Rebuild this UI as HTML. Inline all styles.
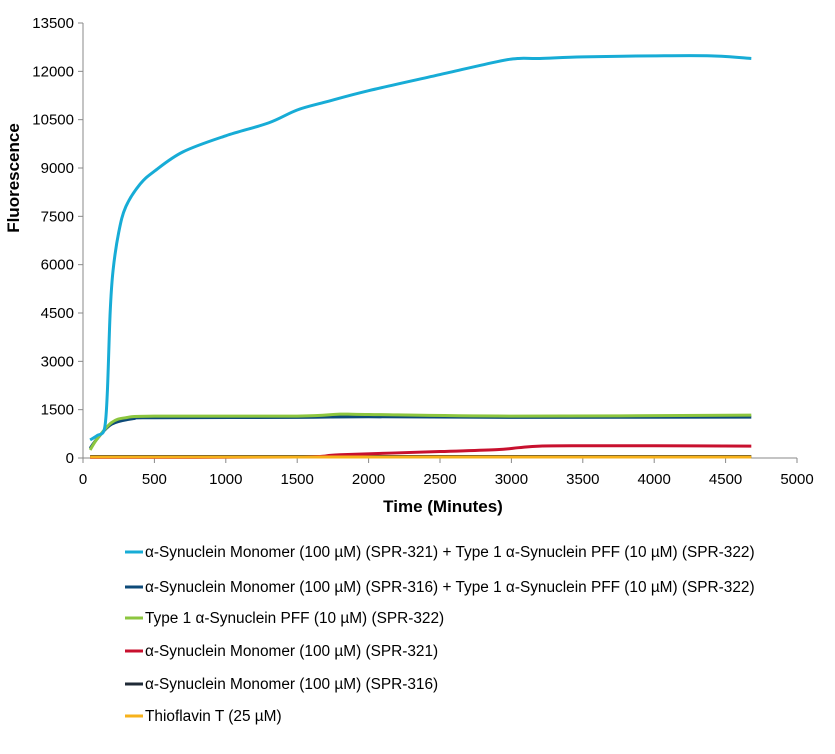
<!DOCTYPE html>
<html><head><meta charset="utf-8"><style>
body{margin:0;background:#fff;font-family:"Liberation Sans",sans-serif}
</style></head><body>
<svg id="c" width="835" height="749" xmlns="http://www.w3.org/2000/svg" font-family="Liberation Sans, sans-serif"></svg>
<script>
const xTicks=[0,500,1000,1500,2000,2500,3000,3500,4000,4500,5000];
const yTicks=[0,1500,3000,4500,6000,7500,9000,10500,12000,13500];
const names=["α-Synuclein Monomer (100 µM) (SPR-321) + Type 1 α-Synuclein PFF (10 µM) (SPR-322)","α-Synuclein Monomer (100 µM) (SPR-316) + Type 1 α-Synuclein PFF (10 µM) (SPR-322)","Type 1 α-Synuclein PFF (10 µM) (SPR-322)","α-Synuclein Monomer (100 µM) (SPR-321)","α-Synuclein Monomer (100 µM) (SPR-316)","Thioflavin T (25 µM)"];
const colors=["#17acd6","#0d4a78","#8cc63f","#c8102e","#1f2a36","#f7b21b"];
const cyanX=[50,100,150,170,190,210,250,300,400,500,700,1000,1300,1500,1700,2000,2500,2900,3050,3200,3500,4000,4400,4680];
const cyanY=[560,700,900,2000,4500,5800,7000,7800,8500,8900,9500,10000,10400,10800,11050,11400,11900,12300,12400,12400,12450,12480,12480,12400];
const navyX=[50,100,200,350,500,1500,2000,3000,4680];
const navyY=[300,600,1050,1220,1250,1260,1280,1260,1270];
const greenX=[50,100,200,300,500,1500,1800,2000,3000,4680];
const greenY=[250,600,1100,1250,1300,1300,1360,1350,1300,1330];
const redX=[50,1500,1800,2500,2900,3050,3200,3500,4000,4680];
const redY=[20,30,100,200,260,320,370,380,380,370];
const blackX=[50,4680];
const blackY=[45,45];
const yelX=[50,4680];
const yelY=[30,30];
const series=[[cyanX,cyanY],[navyX,navyY],[greenX,greenY],[redX,redY],[blackX,blackY],[yelX,yelY]];
const x0=83,x1=797,y0=458,y1=23;
const sx=v=>x0+(v/5000)*(x1-x0), sy=v=>y0-(v/13500)*(y0-y1);
const svg=document.getElementById('c');const NS="http://www.w3.org/2000/svg";
function mk(t,a,txt){const e=document.createElementNS(NS,t);for(const k in a)e.setAttribute(k,a[k]);if(txt!==undefined)e.textContent=txt;svg.appendChild(e);return e;}
let e;
e=mk('line',{x1:x0,y1:y1,x2:x0,y2:y0,stroke:'#888'});


e=mk('line',{x1:x0,y1:y0,x2:x1,y2:y0,stroke:'#888'});


yTicks.forEach(v=>{mk('line',{x1:x0-5,x2:x0,y1:sy(v),y2:sy(v),stroke:'#888'});
e=mk('text',{x:x0-9,y:sy(v)+5,'text-anchor':'end','font-size':15,fill:'#000'},v);

});
xTicks.forEach(v=>{mk('line',{x1:sx(v),x2:sx(v),y1:y0,y2:y0+5,stroke:'#888'});
e=mk('text',{x:sx(v),y:y0+26,'text-anchor':'middle','font-size':15,fill:'#000'},v);

});
e=mk('text',{x:443,y:512,'text-anchor':'middle','font-size':17,'font-weight':'bold'},'Time (Minutes)');


e=mk('text',{x:0,y:0,'text-anchor':'middle','font-size':17,'font-weight':'bold',transform:'translate(19,178) rotate(-90)'},'Fluorescence');


function path(xs,ys){let d='';const p=xs.map((x,i)=>[sx(x),sy(ys[i])]);d='M'+p[0];for(let i=1;i<p.length;i++){const a=p[i-2]||p[i-1],b=p[i-1],c=p[i],n=p[i+1]||c;const c1=[b[0]+(c[0]-a[0])/6,b[1]+(c[1]-a[1])/6],c2=[c[0]-(n[0]-b[0])/6,c[1]-(n[1]-b[1])/6];d+='C'+c1+' '+c2+' '+c;}return d;}
[4,3,1,2,0,5].forEach(i=>{e=mk('path',{d:path(series[i][0],series[i][1]),fill:'none',stroke:colors[i],'stroke-width':3,'stroke-linejoin':'round'});

});
const ly=[552,587,618,651,684,716];
names.forEach((n,i)=>{e=mk('line',{x1:125,x2:143,y1:ly[i],y2:ly[i],stroke:colors[i],'stroke-width':3});


e=mk('text',{x:145,y:ly[i]+5,'font-size':15.4},n);

});
</script>
</body></html>
